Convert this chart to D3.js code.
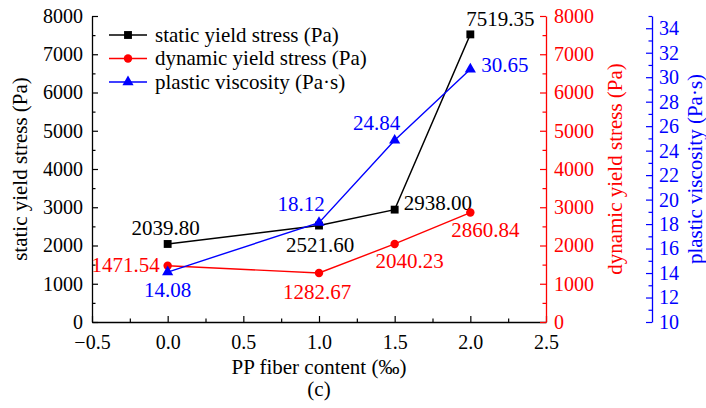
<!DOCTYPE html>
<html>
<head>
<meta charset="utf-8">
<script src="https://cdn.jsdelivr.net/npm/d3@7"></script>
<style>
  html, body { margin: 0; padding: 0; background: #fff; }
  svg text { font-family: "Liberation Serif", "Times New Roman", "DejaVu Serif", serif !important; }
</style>
</head>
<body>
<svg id="chart" width="706" height="408"></svg>
<script>
// PP fiber content (‰) and the three measured rheological properties
const fiberContent = [0, 1, 1.5, 2];
const staticYield = [2039.80, 2521.60, 2938.00, 7519.35];
const dynamicYield = [1471.54, 1282.67, 2040.23, 2860.84];
const plasticViscosity = [14.08, 18.12, 24.84, 30.65];

const xTicks = [-0.5, 0, 0.5, 1, 1.5, 2, 2.5];
const stressTicks = [0, 1000, 2000, 3000, 4000, 5000, 6000, 7000, 8000];
const viscTicks = [10, 12, 14, 16, 18, 20, 22, 24, 26, 28, 30, 32, 34];

(function () {
const RED = "#ff0000", BLUE = "#0000ff", BLACK = "#000000";
const FS_TICK = 20, FS = 21;
const FONT = '"Liberation Serif", "Times New Roman", serif';

const svg = d3.select("#chart");
const plotLeft = 92, plotRight = 546, plotTop = 16, plotBottom = 322;
const blueAxisX = 652;

const x = d3.scaleLinear().domain([-0.5, 2.5]).range([plotLeft, plotRight]);
const yStress = d3.scaleLinear().domain([0, 8000]).range([plotBottom, plotTop]);
const yVisc = d3.scaleLinear().domain([10, 35]).range([plotBottom, plotTop]);

const MAJ = 6, MIN = 3.5;
const intFmt = d3.format("d");

function styleAxis(g, color) {
  g.attr("font-family", FONT).attr("font-size", FS_TICK);
  g.select(".domain").attr("stroke", color).attr("stroke-width", 1.3);
  g.selectAll(".tick line").attr("stroke", color).attr("stroke-width", 1.2);
  g.selectAll(".tick text").attr("fill", color);
}
function styleMinor(g, color) {
  g.select(".domain").remove();
  g.selectAll("line").attr("stroke", color).attr("stroke-width", 1.2);
}

// Bottom axis
const gx = svg.append("g").attr("transform", `translate(0,${plotBottom})`);
gx.append("g").call(d3.axisBottom(x).tickValues(d3.range(-0.25, 2.5, 0.5)).tickSize(-MIN).tickFormat("").tickSizeOuter(0))
  .call(g => styleMinor(g, BLACK));
gx.append("g").call(d3.axisBottom(x).tickValues(xTicks).tickSizeInner(-MAJ).tickSizeOuter(0).tickPadding(13)
    .tickFormat(d => d < 0 ? "\u2212" + Math.abs(d).toFixed(1) : d.toFixed(1)))
  .call(g => styleAxis(g, BLACK));

// Left axis (static yield stress)
const gl = svg.append("g").attr("transform", `translate(${plotLeft},0)`);
gl.append("g").call(d3.axisLeft(yStress).tickValues(d3.range(500, 8000, 1000)).tickSize(-MIN).tickFormat(""))
  .call(g => styleMinor(g, BLACK));
gl.append("g").call(d3.axisLeft(yStress).tickValues(stressTicks).tickFormat(intFmt).tickSizeInner(-MAJ).tickSizeOuter(0).tickPadding(9))
  .call(g => styleAxis(g, BLACK));

// Right axis (dynamic yield stress)
const gr = svg.append("g").attr("transform", `translate(${plotRight},0)`);
gr.append("g").call(d3.axisRight(yStress).tickValues(d3.range(500, 8000, 1000)).tickSize(-MIN).tickFormat(""))
  .call(g => styleMinor(g, RED));
gr.append("g").call(d3.axisRight(yStress).tickValues(stressTicks).tickFormat(intFmt).tickSizeInner(-MAJ).tickSizeOuter(0).tickPadding(8))
  .call(g => styleAxis(g, RED));

// Offset right axis (plastic viscosity)
const gb = svg.append("g").attr("transform", `translate(${blueAxisX},0)`);
gb.append("g").call(d3.axisRight(yVisc).tickValues(d3.range(11, 36, 2)).tickSize(-MIN).tickFormat(""))
  .call(g => styleMinor(g, BLUE));
gb.append("g").call(d3.axisRight(yVisc).tickValues(viscTicks).tickFormat(intFmt).tickSizeInner(-MAJ).tickSizeOuter(0).tickPadding(7))
  .call(g => styleAxis(g, BLUE));

// Axis titles
const midY = (plotTop + plotBottom) / 2;
function title(tx, ty, rot, color, str) {
  svg.append("text").attr("transform", `translate(${tx},${ty})` + (rot ? ` rotate(${rot})` : ""))
    .attr("text-anchor", "middle").attr("fill", color)
    .attr("font-family", FONT).attr("font-size", FS).text(str);
}
title(27, midY, -90, BLACK, "static yield stress (Pa)");
title(622, midY, -90, RED, "dynamic yield stress (Pa)");
title(702, midY, -90, BLUE, "plastic viscosity (Pa\u00b7s)");
title((plotLeft + plotRight) / 2, 374, 0, BLACK, "PP fiber content (\u2030)");
title((plotLeft + plotRight) / 2, 396, 0, BLACK, "(c)");

// Series definitions; label placement is per point [anchor, dx, dy]
const series = [
  { name: "static yield stress (Pa)", values: staticYield, y: yStress, color: BLACK, symbol: d3.symbolSquare, size: 62,
    labels: [["middle", -2, -9], ["middle", 1, 26], ["start", 9, 0], ["start", -4, -8]] },
  { name: "dynamic yield stress (Pa)", values: dynamicYield, y: yStress, color: RED, symbol: d3.symbolCircle, size: 56,
    labels: [["end", -8, 6], ["middle", -2, 26], ["middle", 15, 24], ["middle", 15, 24]] },
  { name: "plastic viscosity (Pa\u00b7s)", values: plasticViscosity, y: yVisc, color: BLUE, symbol: d3.symbolTriangle, size: 54,
    labels: [["middle", 0, 25], ["middle", -18, -12], ["middle", -18, -10], ["start", 11, 3]] }
];

series.forEach(s => {
  const pts = fiberContent.map((c, i) => ({ c, v: s.values[i], lab: s.labels[i] }));
  const g = svg.append("g");
  g.append("path").datum(pts)
    .attr("d", d3.line().x(d => x(d.c)).y(d => s.y(d.v)))
    .attr("fill", "none").attr("stroke", s.color).attr("stroke-width", 1.4);
  g.selectAll("path.m").data(pts).join("path").attr("class", "m")
    .attr("transform", d => `translate(${x(d.c)},${s.y(d.v)})`)
    .attr("d", d3.symbol().type(s.symbol).size(s.size)).attr("fill", s.color);
  g.selectAll("text").data(pts).join("text")
    .attr("x", d => x(d.c) + d.lab[1]).attr("y", d => s.y(d.v) + d.lab[2])
    .attr("text-anchor", d => d.lab[0]).attr("fill", s.color)
    .attr("font-family", FONT).attr("font-size", FS)
    .text(d => d.v.toFixed(2));
});

// Legend
const legend = svg.append("g");
const legendRows = [35, 58.5, 82];
series.forEach((s, i) => {
  const ly = legendRows[i];
  legend.append("line").attr("x1", 109).attr("x2", 147).attr("y1", ly).attr("y2", ly)
    .attr("stroke", s.color).attr("stroke-width", 1.4);
  legend.append("path").attr("transform", `translate(128,${ly})`)
    .attr("d", d3.symbol().type(s.symbol).size(s.size)).attr("fill", s.color);
  legend.append("text").attr("x", 155).attr("y", ly).attr("dy", "0.33em")
    .attr("fill", BLACK).attr("font-family", FONT).attr("font-size", FS).text(s.name);
});
})();
</script>
</body>
</html>
